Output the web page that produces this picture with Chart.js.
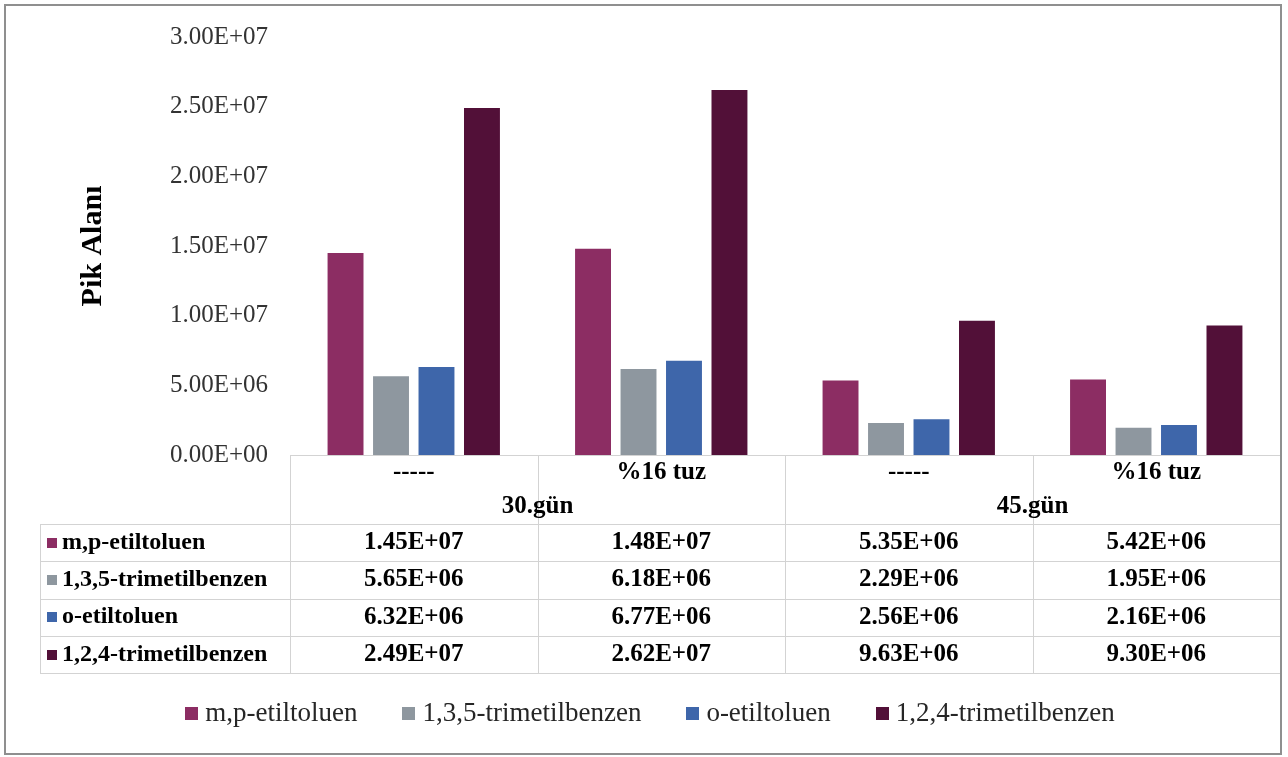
<!DOCTYPE html>
<html>
<head>
<meta charset="utf-8">
<script src="https://cdn.jsdelivr.net/npm/chart.js@4/dist/chart.umd.min.js"></script>
<style>
  html, body { margin: 0; padding: 0; background: #ffffff; }
  #wrap { width: 1288px; height: 757px; position: relative; }
</style>
</head>
<body>
<div id="wrap"><canvas id="chart" width="1288" height="757"></canvas></div>
<script>
// Sample conditions (inner category level) and storage days (outer level)
const conditions = ['-----', '%16 tuz', '-----', '%16 tuz'];
const days = ['30.gün', '45.gün'];

// Peak areas per compound
const seriesNames = ['m,p-etiltoluen', '1,3,5-trimetilbenzen', 'o-etiltoluen', '1,2,4-trimetilbenzen'];
const mpEtiltoluen = [1.45e7, 1.48e7, 5.35e6, 5.42e6];
const trimetilbenzen135 = [5.65e6, 6.18e6, 2.29e6, 1.95e6];
const oEtiltoluen = [6.32e6, 6.77e6, 2.56e6, 2.16e6];
const trimetilbenzen124 = [2.49e7, 2.62e7, 9.63e6, 9.30e6];

// Value axis range
const yMin = 0;
const yMax = 3.0e7;
const yStep = 5.0e6;

const seriesColors = ['#8C2D63', '#8E979F', '#3E66AA', '#521038'];
const seriesValues = [mpEtiltoluen, trimetilbenzen135, oEtiltoluen, trimetilbenzen124];

const SERIF = '"Liberation Serif", "Times New Roman", serif';

// 1.45E+07 style formatting
function sci(v) {
  const parts = Number(v).toExponential(2).split('e');
  const exp = parseInt(parts[1], 10);
  const sign = exp < 0 ? '-' : '+';
  return parts[0] + 'E' + sign + String(Math.abs(exp)).padStart(2, '0');
}

// Data table under the plot plus the legend and frame
const tablePlugin = {
  id: 'dataTable',
  afterDraw(chart) {
    const ctx = chart.ctx;
    const area = chart.chartArea;
    const xs = chart.scales.x;
    const n = conditions.length;
    const colW = xs.width / n;
    const colLeft = i => xs.getPixelForValue(i) - colW / 2;

    const top = area.bottom;             // table top = value axis zero line
    const headerBottom = top + 69;
    const rowH = 37.3;
    const labelLeft = 40;
    const tableRight = colLeft(n - 1) + colW;
    const tableBottom = headerBottom + rowH * seriesNames.length;

    ctx.save();
    ctx.strokeStyle = '#d3d3d3';
    ctx.lineWidth = 1;
    const hline = (x1, x2, y) => { ctx.beginPath(); ctx.moveTo(x1, Math.round(y) + 0.5); ctx.lineTo(x2, Math.round(y) + 0.5); ctx.stroke(); };
    const vline = (x, y1, y2) => { ctx.beginPath(); ctx.moveTo(Math.round(x) + 0.5, y1); ctx.lineTo(Math.round(x) + 0.5, y2); ctx.stroke(); };

    hline(area.left, tableRight, top);
    for (let r = 0; r <= seriesNames.length; r++) {
      hline(labelLeft, tableRight, headerBottom + rowH * r);
    }
    vline(labelLeft, headerBottom, tableBottom);
    for (let i = 0; i <= n; i++) {
      const x = i < n ? colLeft(i) : tableRight;
      vline(x, top, tableBottom);
    }

    // header texts
    ctx.fillStyle = '#000000';
    ctx.textAlign = 'center';
    ctx.textBaseline = 'middle';
    ctx.font = 'bold 25px ' + SERIF;
    for (let i = 0; i < n; i++) {
      ctx.fillText(conditions[i], xs.getPixelForValue(i), top + 18);
    }
    const perDay = n / days.length;
    for (let d = 0; d < days.length; d++) {
      const l = colLeft(d * perDay);
      const r = colLeft(d * perDay + perDay - 1) + colW;
      ctx.fillText(days[d], (l + r) / 2, top + 52);
    }

    // rows
    for (let s = 0; s < seriesNames.length; s++) {
      const cy = headerBottom + rowH * s + rowH / 2;
      ctx.fillStyle = seriesColors[s];
      ctx.fillRect(47, Math.round(cy - 5), 10, 10);
      ctx.fillStyle = '#000000';
      ctx.textAlign = 'left';
      ctx.font = 'bold 24px ' + SERIF;
      ctx.fillText(seriesNames[s], 62, cy);
      ctx.textAlign = 'center';
      ctx.font = 'bold 25px ' + SERIF;
      for (let i = 0; i < n; i++) {
        ctx.fillText(sci(seriesValues[s][i]), xs.getPixelForValue(i), cy);
      }
    }

    // legend
    ctx.font = '27px ' + SERIF;
    ctx.textAlign = 'left';
    const box = 13, gapText = 7, gapItem = 45;
    const widths = seriesNames.map(t => ctx.measureText(t).width);
    let total = 0;
    widths.forEach((w, i) => { total += box + gapText + w + (i < widths.length - 1 ? gapItem : 0); });
    let x = 650 - total / 2;
    const ly = 714;
    for (let s = 0; s < seriesNames.length; s++) {
      ctx.fillStyle = seriesColors[s];
      ctx.fillRect(Math.round(x), ly - 7, box, box);
      ctx.fillStyle = '#262626';
      ctx.fillText(seriesNames[s], x + box + gapText, ly);
      x += box + gapText + widths[s] + gapItem;
    }

    // outer frame
    ctx.strokeStyle = '#8f8f8f';
    ctx.lineWidth = 2;
    ctx.strokeRect(5, 5, 1276, 749);
    ctx.restore();
  }
};

new Chart(document.getElementById('chart'), {
  type: 'bar',
  data: {
    labels: conditions,
    datasets: seriesNames.map((name, i) => ({
      label: name,
      data: seriesValues[i],
      backgroundColor: seriesColors[i],
      borderWidth: 0,
      categoryPercentage: 0.735,
      barPercentage: 0.79
    }))
  },
  options: {
    responsive: false,
    animation: false,
    devicePixelRatio: 1,
    layout: { padding: { left: 0, top: 37, right: 8, bottom: 302 } },
    plugins: {
      legend: { display: false },
      tooltip: { enabled: false }
    },
    scales: {
      x: { display: false },
      y: {
        min: yMin,
        max: yMax,
        afterFit(scale) { scale.width = 290; },
        grid: { display: false, drawTicks: false },
        border: { display: false },
        ticks: {
          stepSize: yStep,
          padding: 22,
          color: '#333333',
          font: { family: SERIF, size: 25 },
          callback: v => sci(v)
        },
        title: {
          display: true,
          text: 'Pik Alanı',
          color: '#000000',
          font: { family: SERIF, size: 30, weight: 'bold' },
          padding: { top: 75, bottom: 0 }
        }
      }
    }
  },
  plugins: [tablePlugin]
});
</script>
</body>
</html>
